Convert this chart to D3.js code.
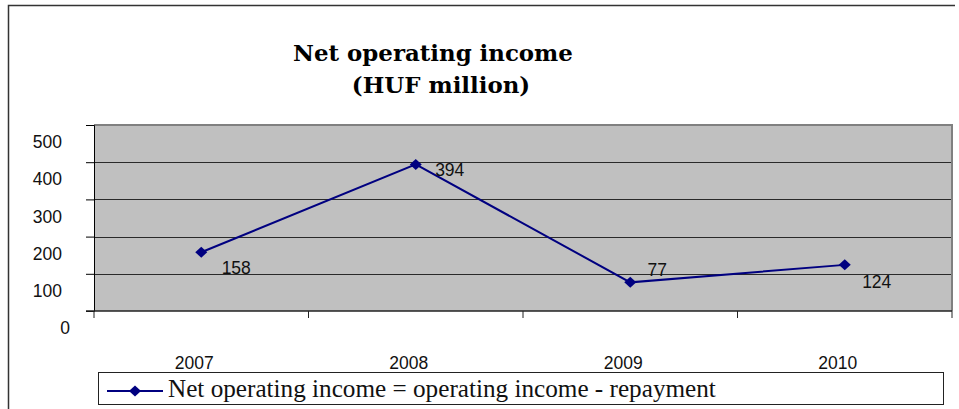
<!DOCTYPE html>
<html>
<head>
<meta charset="utf-8">
<script src="https://cdn.jsdelivr.net/npm/d3@7"></script>
<style>
  body { margin: 0; background: #fff; }
  svg { display: block; }
</style>
</head>
<body>
<div id="chart"></div>
<script>
const years = ["2007", "2008", "2009", "2010"];
const netIncome = [158, 394, 77, 124];
const yTicks = [0, 100, 200, 300, 400, 500];
const titleLines = ["Net operating income", "(HUF million)"];
const legendLabel = "Net operating income = operating income - repayment";

const width = 959;
const height = 409;

const svg = d3.select("#chart")
  .append("svg")
  .attr("width", width).attr("height", height);

// fit a text element to a measured width
function fitWidth(sel, target) {
  const w = sel.node().getComputedTextLength();
  const fs = parseFloat(sel.attr("font-size"));
  sel.attr("font-size", fs * target / w);
}

// outer frame (top + left only, right side is cropped)
svg.append("path")
  .attr("d", "M8.5,409 L8.5,5.5 L955,5.5")
  .attr("fill", "none")
  .attr("stroke", "#333")
  .attr("stroke-width", 1.5);

// title
const t1 = svg.append("text")
  .attr("x", 433).attr("y", 61)
  .attr("text-anchor", "middle")
  .attr("font-family", "DejaVu Serif")
  .attr("font-weight", "bold")
  .attr("font-size", 22)
  .text(titleLines[0]);
fitWidth(t1, 280);
const t2 = svg.append("text")
  .attr("x", 441).attr("y", 93)
  .attr("text-anchor", "middle")
  .attr("font-family", "DejaVu Serif")
  .attr("font-weight", "bold")
  .attr("font-size", t1.attr("font-size"))
  .text(titleLines[1]);

const x = d3.scaleBand().domain(years).range([94, 952]);
const y = d3.scaleLinear().domain([0, 500]).range([311, 125]);

// plot background
svg.append("rect")
  .attr("x", x.range()[0]).attr("y", y(500))
  .attr("width", x.range()[1] - x.range()[0])
  .attr("height", y(0) - y(500))
  .attr("fill", "#c0c0c0");

// gridlines
svg.append("g")
  .selectAll("line")
  .data(yTicks.filter(d => d > 0 && d < 500))
  .join("line")
  .attr("x1", x.range()[0]).attr("x2", x.range()[1])
  .attr("y1", d => Math.round(y(d)) + 0.5)
  .attr("y2", d => Math.round(y(d)) + 0.5)
  .attr("stroke", "#2a2a2a");

// top + right plot border
svg.append("path")
  .attr("d", `M${x.range()[0]},${y(500)} L${x.range()[1]},${y(500)} L${x.range()[1]},${y(0)}`)
  .attr("fill", "none")
  .attr("stroke", "#808080")
  .attr("stroke-width", 2);

// y axis
const yAxis = svg.append("g")
  .attr("transform", `translate(${x.range()[0]},0)`)
  .call(d3.axisLeft(y).tickValues(yTicks).tickSize(8).tickPadding(24).tickFormat(d3.format("d")));
yAxis.select(".domain").attr("stroke", "#000");
yAxis.selectAll(".tick line").attr("stroke", "#000");
yAxis.selectAll(".tick text")
  .attr("font-family", "Liberation Sans, Arial")
  .attr("font-size", 17.5)
  .attr("fill", "#111")
  .attr("dy", "1.3em")
  .attr("dx", d => d === 0 ? 8 : 0);

// x axis with ticks on category boundaries
const xAxisG = svg.append("g")
  .attr("transform", `translate(0,${y(0)})`);
xAxisG.append("line")
  .attr("x1", x.range()[0] - 8).attr("x2", x.range()[1])
  .attr("y1", 0).attr("y2", 0)
  .attr("stroke", "#222").attr("stroke-width", 1.5);
xAxisG.selectAll(".bound")
  .data(years.map(d => x(d)).concat([x.range()[1]]))
  .join("line")
  .attr("class", "bound")
  .attr("x1", d => d).attr("x2", d => d)
  .attr("y1", 0).attr("y2", 7)
  .attr("stroke", "#222");
xAxisG.selectAll(".xlab")
  .data(years)
  .join("text")
  .attr("class", "xlab")
  .attr("x", d => x(d) + x.bandwidth() / 2 - 7)
  .attr("y", 52)
  .attr("dy", "0.35em")
  .attr("text-anchor", "middle")
  .attr("font-family", "Liberation Sans, Arial")
  .attr("font-size", 17.5)
  .attr("fill", "#111")
  .text(d => d);

// series
const pts = years.map((d, i) => ({ year: d, value: netIncome[i] }));
const cx = d => x(d.year) + x.bandwidth() / 2;

svg.append("path")
  .datum(pts)
  .attr("fill", "none")
  .attr("stroke", "#000080")
  .attr("stroke-width", 2)
  .attr("d", d3.line().x(cx).y(d => y(d.value)));

const diamond = (w, h) => `M0,${-h}L${w},0L0,${h}L${-w},0Z`;

svg.append("g")
  .selectAll("path")
  .data(pts)
  .join("path")
  .attr("transform", d => `translate(${cx(d)},${y(d.value)})`)
  .attr("d", diamond(6, 5.5))
  .attr("fill", "#000080");

// data labels (offsets as placed in the original)
const labelOffsets = [[35, 16], [34, 5], [27, -12], [32, 17]];
svg.append("g")
  .selectAll("text")
  .data(pts)
  .join("text")
  .attr("x", (d, i) => cx(d) + labelOffsets[i][0])
  .attr("y", (d, i) => y(d.value) + labelOffsets[i][1])
  .attr("dy", "0.35em")
  .attr("text-anchor", "middle")
  .attr("font-family", "Liberation Sans, Arial")
  .attr("font-size", 17.5)
  .attr("fill", "#111")
  .text(d => d.value);

// legend
const legend = svg.append("g");
legend.append("rect")
  .attr("x", 98.5).attr("y", 372.5)
  .attr("width", 845).attr("height", 32)
  .attr("fill", "#fff")
  .attr("stroke", "#222");
legend.append("line")
  .attr("x1", 107).attr("x2", 163)
  .attr("y1", 391).attr("y2", 391)
  .attr("stroke", "#000080").attr("stroke-width", 2);
legend.append("path")
  .attr("transform", "translate(135,391)")
  .attr("d", diamond(6, 5.5))
  .attr("fill", "#000080");
const lt = legend.append("text")
  .attr("x", 168).attr("y", 397)
  .attr("font-family", "Liberation Serif")
  .attr("font-size", 22)
  .attr("fill", "#111")
  .text(legendLabel);
fitWidth(lt, 548);
</script>
</body>
</html>
